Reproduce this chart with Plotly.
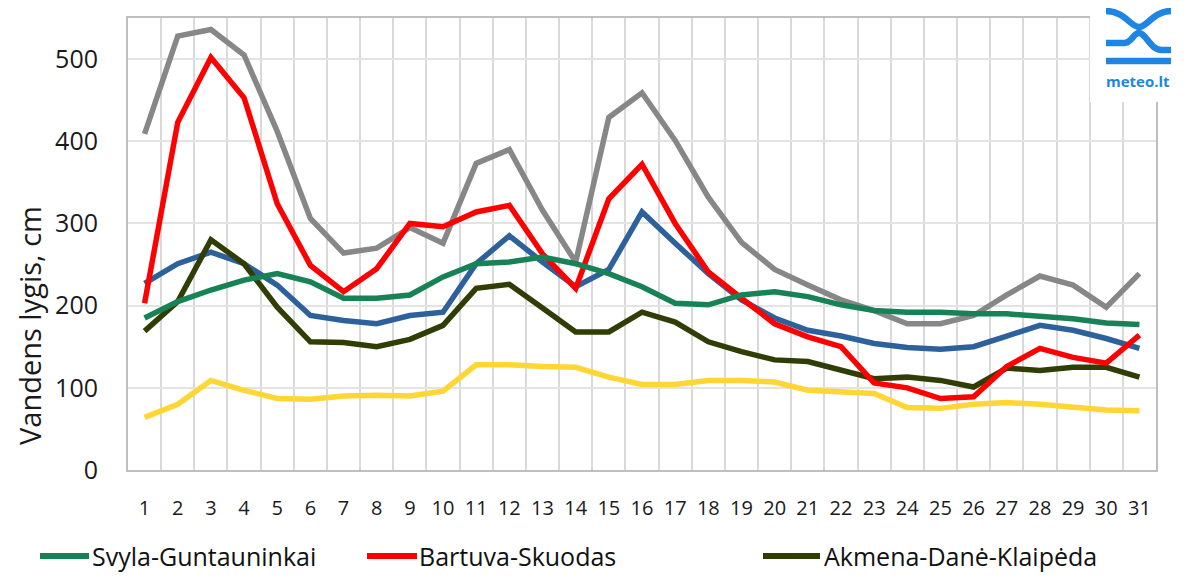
import plotly.graph_objects as go

days = list(range(1, 32))
day_labels = [str(d) for d in days]

svyla = [185, 205, 219, 231, 239, 229, 209, 209, 213, 235, 251, 253, 259, 251, 239, 223, 203, 201, 213, 217,
         211, 201, 194, 192, 192, 190, 190, 187, 184, 179, 177]
bartuva = [203, 423, 502, 453, 324, 249, 217, 245, 300, 296, 314, 322, 263, 221, 330, 372, 300, 241, 209, 178,
           162, 150, 106, 100, 87, 89, 126, 148, 137, 130, 164]
akmena = [169, 205, 280, 251, 198, 156, 155, 150, 159, 176, 221, 226, 197, 168, 168, 192, 180, 156, 144, 134,
          132, 121, 111, 113, 109, 101, 124, 121, 125, 125, 113]
gray_series = [409, 528, 536, 505, 412, 306, 264, 270, 295, 276, 373, 390, 316, 253, 429, 459, 401, 332, 277, 244,
               225, 207, 194, 178, 178, 188, 213, 236, 225, 198, 239]
blue_series = [227, 251, 265, 251, 225, 188, 182, 178, 188, 192, 251, 285, 253, 223, 244, 314, 276, 239, 207, 185,
               170, 163, 154, 149, 147, 150, 163, 176, 170, 160, 148]
yellow_series = [64, 80, 109, 97, 87, 86, 90, 91, 90, 96, 128, 128, 126, 125, 113, 104, 104, 109, 109, 107,
                 97, 95, 93, 76, 75, 80, 82, 80, 77, 73, 72]

y_ticks = [0, 100, 200, 300, 400, 500]

FONT = "Open Sans"
OFF = 8  # page body margin in the browser
W, H = 1187 - OFF, 579 - OFF
# plot area in window pixels: x 128..1156, y 18..470
L, T = 128 - OFF, 18 - OFF
R = W - (1156 - OFF)
B = H - (470 - OFF)
PW, PH = W - L - R, H - T - B

C_SVYLA = "#178255"
C_BARTUVA = "#ff0000"
C_AKMENA = "#303d05"


def px(x):
    """window pixel x -> paper x"""
    return (x - OFF - L) / PW


def py(y):
    """window pixel y -> paper y"""
    return (H - B - (y - OFF)) / PH


fig = go.Figure()

hidden = [
    (gray_series, "#878787", "Pilka"),
    (yellow_series, "#ffd633", "Geltona"),
    (blue_series, "#2d619c", "Mėlyna"),
]
for vals, col, nm in hidden:
    fig.add_trace(go.Scatter(x=days, y=vals, mode="lines", name=nm, showlegend=False,
                             line=dict(color=col, width=5.5)))

fig.add_trace(go.Scatter(x=days, y=akmena, mode="lines", name="Akmena-Danė-Klaipėda",
                         line=dict(color=C_AKMENA, width=5.5), legend="legend3"))
fig.add_trace(go.Scatter(x=days, y=bartuva, mode="lines", name="Bartuva-Skuodas",
                         line=dict(color=C_BARTUVA, width=5.5), legend="legend2"))
fig.add_trace(go.Scatter(x=days, y=svyla, mode="lines", name="Svyla-Guntauninkai",
                         line=dict(color=C_SVYLA, width=5.5), legend="legend"))

LEG_Y = 1 - (556 - OFF) / H
TEXT_OFF = 41


def leg(text_x):
    return dict(orientation="h", xref="container", yref="container",
                x=(text_x - OFF - TEXT_OFF) / W, xanchor="left", y=LEG_Y, yanchor="middle",
                font=dict(size=25, color="#111111", family=FONT), bgcolor="rgba(0,0,0,0)")


fig.update_layout(
    width=W, height=H,
    margin=dict(l=L, r=R, t=T, b=B, autoexpand=False),
    paper_bgcolor="white", plot_bgcolor="white",
    font=dict(family=FONT, color="#1a1a1a"),
    legend=leg(93), legend2=leg(420), legend3=leg(825),
    xaxis=dict(range=[0.5, 31.5], tickvals=days, ticktext=day_labels, showgrid=False,
               showline=True, linecolor="#bfbfbf", linewidth=2, mirror=True, automargin=False,
               ticks="", ticklabelstandoff=19, tickfont=dict(size=20, color="#1a1a1a"),
               zeroline=False,
               minor=dict(tick0=0.5, dtick=1, showgrid=True, gridcolor="#d9d9d9", gridwidth=1.5)),
    yaxis=dict(range=[0, 550], tickvals=y_ticks, showgrid=True, gridcolor="#e3e3e3", gridwidth=1.5,
               showline=True, linecolor="#bfbfbf", linewidth=2, mirror=True, zeroline=False,
               automargin=False,
               ticks="", ticklabelstandoff=23, tickfont=dict(size=25, color="#1a1a1a")),
    annotations=[
        dict(text="Vandens lygis, cm", x=px(29), y=py(326), xref="paper", yref="paper",
             textangle=-90, showarrow=False, font=dict(size=29, color="#1a1a1a"),
             xanchor="center", yanchor="middle"),
        dict(text="<b>meteo.lt</b>", x=px(1104), y=py(81), xref="paper", yref="paper",
             showarrow=False, font=dict(size=15, color="#1e86e2", family="Open Sans"),
             xanchor="left", yanchor="middle"),
    ],
)

# white box behind logo (covers the plot corner)
shapes = [
    dict(type="rect", xref="paper", yref="paper", x0=px(1090), x1=px(1200), y0=py(102), y1=py(-5),
         fillcolor="white", line=dict(width=0), layer="above"),
]

# longer legend line samples (drawn over the built-in legend symbols)
for x0, x1, col in [(40, 89, C_SVYLA), (367, 417, C_BARTUVA), (763, 820, C_AKMENA)]:
    shapes.append(dict(type="line", xref="paper", yref="paper", x0=px(x0), x1=px(x1),
                       y0=py(556), y1=py(556), line=dict(color=col, width=6), layer="above"))


def path(cmds):
    out = []
    for c in cmds:
        if isinstance(c, str):
            out.append(c)
        else:
            out.append(f"{px(c[0]):.5f},{py(c[1]):.5f}")
    return " ".join(out)


blue = "#1e86e2"
logo_paths = [
    ["M", (1106, 11), "C", (1124, 11), (1131, 27), (1139, 27),
     "C", (1147, 27), (1154, 11), (1171, 11)],
    ["M", (1106, 43), "L", (1124, 43), "C", (1132, 43), (1133, 33), (1139, 33),
     "C", (1146, 33), (1150, 50), (1162, 50), "L", (1171, 50)],
    ["M", (1106, 61), "L", (1171, 61)],
]
for p in logo_paths:
    shapes.append(dict(type="path", xref="paper", yref="paper", path=path(p),
                       line=dict(color=blue, width=6.5), layer="above"))
fig.update_layout(shapes=shapes)

fig.write_html("out.html")
